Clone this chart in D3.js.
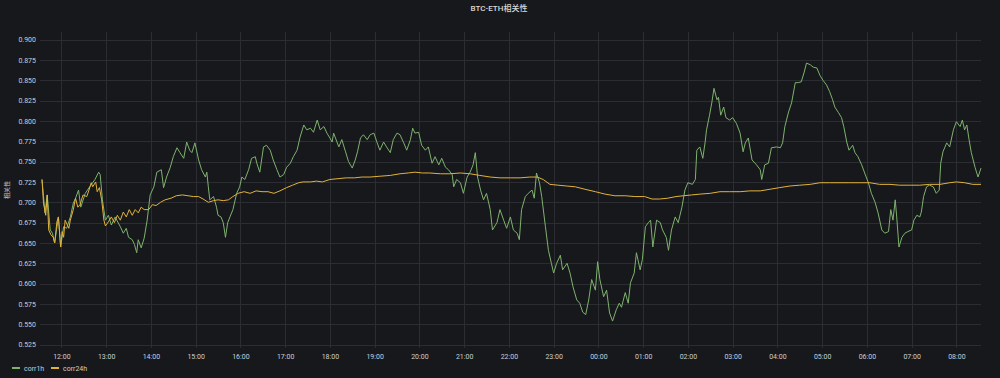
<!DOCTYPE html>
<html>
<head>
<meta charset="utf-8">
<script src="https://cdn.jsdelivr.net/npm/d3@7"></script>
<style>
	html, body { margin: 0; padding: 0; background: #17181c; }
	#m1 { width: 1000px; height: 378px; }
	text { font-family: Roboto, "Noto Sans CJK SC", sans-serif; }
</style>
</head>
<body>
<div id="m1"></div>
<script>
// chart data
var title = "BTC-ETH相关性";
var yLabel = "相关性";
var seriesNames = ["corr1h", "corr24h"];
var seriesColors = ["#7EB26D", "#E2B23A"];
var yTicks = [0.525, 0.550, 0.575, 0.600, 0.625, 0.650, 0.675, 0.700, 0.725, 0.750, 0.775, 0.800, 0.825, 0.850, 0.875, 0.900];

var times1h = ["11:34","11:38","11:41","11:45","11:48","11:51","11:56","11:59","12:03","12:07","12:12","12:16","12:19","12:23","12:26","12:32","12:38","12:45","12:50","12:52","12:55","12:59",
	"13:03","13:07","13:12","13:19","13:23","13:27","13:30","13:35","13:38","13:41","13:43","13:47","13:51","13:55","13:59",
	"14:04","14:08","14:14","14:17","14:21","14:26","14:30","14:35","14:39","14:44","14:48","14:52","14:55","14:59",
	"15:04","15:08","15:13","15:15","15:17","15:19","15:24","15:28","15:30","15:34","15:37","15:40","15:43","15:46","15:50","15:55","15:59",
	"16:02","16:06","16:11","16:15","16:20","16:22","16:26","16:31","16:35","16:40","16:44","16:49","16:53","16:58",
	"17:02","17:07","17:11","17:16","17:20","17:25","17:29","17:34","17:38","17:43","17:47","17:52","17:56",
	"18:00","18:03","18:05","18:12","18:16","18:21","18:25","18:30","18:34","18:37","18:41","18:45","18:50","18:54","18:59",
	"19:03","19:07","19:12","19:16","19:21","19:25","19:30","19:34","19:39","19:43","19:48","19:51","19:54","19:59",
	"20:03","20:08","20:12","20:17","20:21","20:26","20:30","20:35","20:39","20:44","20:46","20:50","20:55","20:59",
	"21:04","21:08","21:12","21:15","21:18","21:22","21:26","21:30","21:35","21:38","21:44","21:48","21:53","21:57",
	"22:02","22:06","22:11","22:14","22:17","22:22","22:26","22:31","22:34","22:37","22:41","22:44","22:49","22:53","22:57",
	"23:00","23:04","23:09","23:12","23:18","23:22","23:26","23:31","23:35","23:39","23:43","23:47","23:51","23:56","23:59",
	"00:02","00:07","00:11","00:15","00:19","00:24","00:28","00:31","00:36","00:40","00:43","00:48","00:51","00:56","00:59",
	"01:03","01:07","01:10","01:13","01:18","01:23","01:26","01:31","01:34","01:38","01:43","01:47","01:52","01:56",
	"02:00","02:06","02:10","02:12","02:16","02:20","02:23","02:25","02:29","02:32","02:35","02:39","02:41","02:44","02:48","02:51","02:56",
	"03:00","03:05","03:10","03:14","03:17","03:21","03:26","03:32","03:37","03:39","03:43","03:48","03:52","03:59",
	"04:04","04:07","04:10","04:15","04:19","04:24","04:28","04:32","04:36","04:39","04:44","04:48","04:53","04:57",
	"05:01","05:06","05:10","05:14","05:17","05:22","05:26","05:29","05:33","05:36","05:41","05:44","05:48","05:53","05:57",
	"06:02","06:06","06:11","06:15","06:20","06:24","06:29","06:32","06:35","06:38","06:40","06:43","06:47","06:51","06:55",
	"07:00","07:03","07:07","07:11","07:13","07:16","07:20","07:24","07:29","07:33","07:37","07:39","07:42","07:47","07:51","07:56",
	"08:00","08:05","08:08","08:11","08:14","08:17","08:20","08:25","08:29","08:33"];

var corr1h = [0.728,0.687,0.709,0.666,0.662,0.650,0.682,0.645,0.670,0.668,0.682,0.699,0.705,0.715,0.694,0.711,0.719,0.728,0.737,0.734,0.703,0.678,
	0.684,0.672,0.682,0.670,0.662,0.668,0.657,0.654,0.648,0.638,0.654,0.644,0.656,0.678,0.709,
	0.719,0.737,0.740,0.718,0.731,0.743,0.756,0.767,0.761,0.754,0.774,0.764,0.761,0.773,
	0.752,0.740,0.731,0.737,0.719,0.703,0.707,0.694,0.684,0.682,0.675,0.657,0.675,0.682,0.691,0.711,0.719,
	0.731,0.728,0.740,0.754,0.756,0.748,0.737,0.768,0.770,0.764,0.752,0.740,0.731,0.734,
	0.743,0.748,0.756,0.764,0.780,0.795,0.789,0.791,0.786,0.801,0.789,0.793,0.785,
	0.779,0.774,0.785,0.768,0.777,0.762,0.750,0.742,0.752,0.762,0.779,0.783,0.777,0.783,0.785,
	0.774,0.764,0.774,0.768,0.761,0.777,0.785,0.783,0.773,0.764,0.777,0.791,0.785,0.786,
	0.770,0.764,0.768,0.748,0.756,0.746,0.754,0.743,0.740,0.734,0.719,0.728,0.724,0.711,
	0.731,0.737,0.746,0.761,0.731,0.715,0.703,0.711,0.691,0.666,0.675,0.691,0.678,0.668,
	0.682,0.666,0.662,0.654,0.691,0.707,0.711,0.715,0.705,0.736,0.724,0.707,0.670,0.641,0.625,
	0.613,0.625,0.635,0.617,0.625,0.613,0.596,0.580,0.576,0.565,0.562,0.580,0.605,0.592,0.627,
	0.605,0.584,0.592,0.564,0.554,0.568,0.576,0.571,0.589,0.576,0.601,0.613,0.638,0.617,0.630,
	0.670,0.675,0.678,0.645,0.678,0.675,0.666,0.657,0.641,0.666,0.682,0.675,0.694,0.715,
	0.724,0.722,0.728,0.764,0.768,0.754,0.773,0.789,0.807,0.822,0.840,0.826,0.829,0.807,0.817,0.804,0.801,
	0.804,0.797,0.785,0.762,0.773,0.779,0.752,0.746,0.740,0.728,0.746,0.748,0.767,0.768,
	0.767,0.773,0.793,0.811,0.822,0.847,0.847,0.848,0.860,0.871,0.869,0.866,0.865,0.856,
	0.850,0.844,0.836,0.826,0.817,0.810,0.804,0.793,0.774,0.764,0.770,0.761,0.756,0.746,0.736,
	0.724,0.711,0.700,0.687,0.666,0.662,0.664,0.691,0.678,0.703,0.682,0.645,0.657,0.662,0.664,
	0.666,0.678,0.684,0.682,0.688,0.707,0.719,0.721,0.719,0.711,0.715,0.748,0.762,0.773,0.768,0.789,
	0.799,0.793,0.801,0.789,0.795,0.777,0.761,0.743,0.731,0.742];

var times24h = ["11:34","11:36","11:39","11:41","11:43","11:46","11:49","11:51","11:54","11:56","11:59","12:01","12:03","12:05","12:08","12:10","12:12","12:16","12:19","12:22","12:25","12:29","12:34","12:37","12:40","12:42","12:46","12:48","12:51","12:54","12:57","12:59",
	"13:03","13:07","13:11","13:15","13:19","13:23","13:27","13:31","13:35","13:39","13:43","13:47","13:51","13:57",
	"14:02","14:07","14:13","14:19","14:27","14:34","14:42","14:50","14:57","15:04","15:10","15:17","15:24","15:30","15:37","15:44","15:50","15:57",
	"16:05","16:13","16:21","16:29","16:37","16:45","16:53","17:02","17:10","17:18","17:24","17:34","17:42","17:50",
	"18:00","18:11","18:22","18:33","18:43","18:54","19:07","19:21","19:34","19:45","19:54","20:04","20:14","20:28","20:41","20:55",
	"21:08","21:21","21:35","21:48","22:02","22:15","22:28","22:38","22:46","22:55","23:06","23:17","23:29","23:42","23:56",
	"00:09","00:22","00:36","00:49","01:02","01:12","01:22","01:33","01:44","01:54","02:05","02:16","02:30","02:43","02:56",
	"03:10","03:23","03:37","03:50","04:03","04:17","04:30","04:44","04:57","05:10","05:24","05:37","05:51",
	"06:04","06:17","06:31","06:44","06:58","07:11","07:24","07:38","07:51","08:00","08:11","08:22","08:33"];

var corr24h = [0.728,0.699,0.684,0.709,0.666,0.660,0.657,0.650,0.676,0.682,0.645,0.664,0.657,0.678,0.672,0.668,0.678,0.691,0.705,0.694,0.697,0.709,0.707,0.715,0.724,0.719,0.725,0.713,0.718,0.703,0.678,0.671,
	0.676,0.682,0.675,0.684,0.678,0.688,0.682,0.691,0.684,0.691,0.687,0.694,0.691,0.691,
	0.697,0.696,0.700,0.703,0.705,0.708,0.709,0.708,0.707,0.707,0.704,0.700,0.702,0.703,0.702,0.703,0.707,0.711,
	0.713,0.711,0.714,0.713,0.713,0.711,0.714,0.718,0.721,0.724,0.725,0.725,0.726,0.725,
	0.728,0.729,0.730,0.730,0.731,0.731,0.732,0.733,0.735,0.736,0.737,0.736,0.736,0.735,0.735,0.736,
	0.735,0.733,0.731,0.730,0.730,0.730,0.731,0.731,0.728,0.722,0.721,0.720,0.719,0.716,0.713,
	0.710,0.708,0.708,0.707,0.707,0.704,0.704,0.705,0.707,0.708,0.709,0.710,0.711,0.713,0.713,
	0.713,0.714,0.714,0.716,0.718,0.720,0.721,0.722,0.724,0.724,0.724,0.724,0.724,
	0.724,0.722,0.722,0.721,0.721,0.721,0.722,0.722,0.724,0.725,0.724,0.722,0.722];

// set the dimensions of the plot area
var width = 1000, height = 378;
var plot = { left: 40, right: 981, top: 32, bottom: 348 };
var textColor = "#c7d0d9";

// times after midnight belong to the next day
var parseClock = d3.timeParse("%H:%M");
function toDate(s) {
	var d = parseClock(s);
	if (d.getHours() < 11) d = d3.timeDay.offset(d, 1);
	return d;
}

var series = [
	{ name: seriesNames[0], color: seriesColors[0],
		values: times1h.map(function (t, i) { return { date: toDate(t), value: corr1h[i] }; }) },
	{ name: seriesNames[1], color: seriesColors[1],
		values: times24h.map(function (t, i) { return { date: toDate(t), value: corr24h[i] }; }) }
];

// append the svg object to the body of the page
var svg = d3.select("#m1")
	.append("svg")
	.attr("width", width)
	.attr("height", height);

var x = d3.scaleTime()
	.domain(d3.extent(series[0].values, function (d) { return d.date; }))
	.range([42, plot.right]);

var y = d3.scaleLinear()
	.domain([0.525, 0.9])
	.range([344.7, 39.5]);

var hours = x.ticks(d3.timeHour.every(1));

// grid
svg.append("g")
	.selectAll("line")
	.data(yTicks)
	.enter()
	.append("line")
	.attr("x1", plot.left)
	.attr("x2", plot.right)
	.attr("y1", function (d) { return Math.round(y(d)) + 0.5; })
	.attr("y2", function (d) { return Math.round(y(d)) + 0.5; })
	.attr("stroke", "#2b2d32");

svg.append("g")
	.selectAll("line")
	.data(hours)
	.enter()
	.append("line")
	.attr("x1", function (d) { return Math.round(x(d)) + 0.5; })
	.attr("x2", function (d) { return Math.round(x(d)) + 0.5; })
	.attr("y1", plot.top)
	.attr("y2", plot.bottom)
	.attr("stroke", "#2b2d32");

// axes
svg.append("g")
	.attr("transform", "translate(" + plot.left + ",0)")
	.call(d3.axisLeft(y).tickValues(yTicks).tickFormat(d3.format(".3f")).tickSize(0).tickPadding(4));

svg.append("g")
	.attr("transform", "translate(0," + plot.bottom + ")")
	.call(d3.axisBottom(x).ticks(d3.timeHour.every(1)).tickFormat(d3.timeFormat("%H:%M")).tickSize(0).tickPadding(6));

svg.selectAll(".domain").remove();
svg.selectAll(".tick text")
	.attr("fill", textColor)
	.style("font-size", "7px")
	.style("font-family", "Roboto, sans-serif");

// lines
var line = d3.line()
	.x(function (d) { return x(d.date); })
	.y(function (d) { return y(d.value); });

svg.append("g")
	.selectAll("path")
	.data(series)
	.enter()
	.append("path")
	.attr("d", function (d) { return line(d.values); })
	.attr("fill", "none")
	.attr("stroke", function (d) { return d.color; })
	.attr("stroke-width", 1);

// title and y label
svg.append("text")
	.attr("x", 499)
	.attr("y", 10.5)
	.attr("text-anchor", "middle")
	.attr("fill", "#d8d9da")
	.style("font-size", "8px")
	.style("font-weight", "500")
	.text(title);

svg.append("text")
	.attr("transform", "translate(9,190)rotate(-90)")
	.attr("text-anchor", "middle")
	.attr("fill", textColor)
	.style("font-size", "6px")
	.text(yLabel);

// legend
var legend = svg.append("g")
	.selectAll("g")
	.data(series)
	.enter()
	.append("g")
	.attr("transform", function (d, i) { return "translate(" + (12 + i * 39) + ",368)"; });

legend.append("line")
	.attr("x1", 0)
	.attr("x2", 8)
	.attr("stroke", function (d) { return d.color; })
	.attr("stroke-width", 2);

legend.append("text")
	.attr("x", 12)
	.attr("y", 2.5)
	.attr("fill", textColor)
	.style("font-size", "7px")
	.text(function (d) { return d.name; });
</script>
</body>
</html>
